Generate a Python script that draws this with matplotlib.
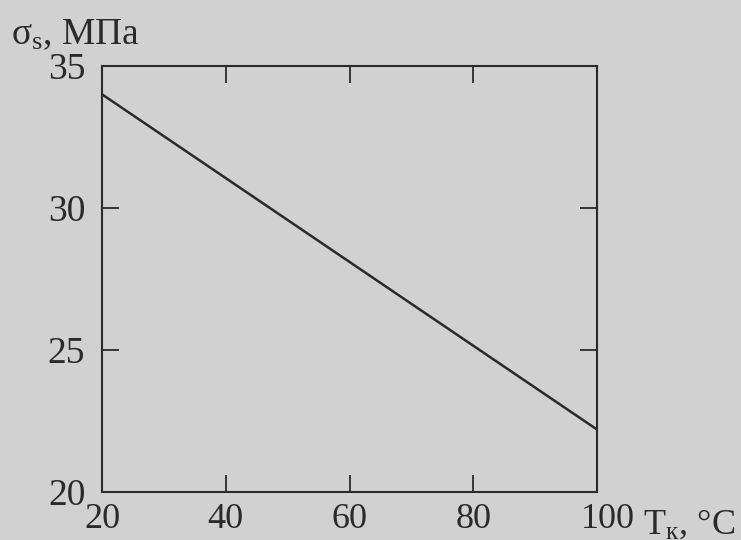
import matplotlib
matplotlib.use("Agg")
import matplotlib.pyplot as plt
import matplotlib.transforms as mtransforms

# Data
temperature = [20, 100]          # T_k, °C
stress = [34.0, 22.2]            # sigma_s, MPa
x_ticks = [20, 40, 60, 80, 100]
y_ticks = [20, 25, 30, 35]

bg = "#d1d1d1"
ink = "#2a2a2a"

plt.rcParams['font.family'] = ['Liberation Serif', 'DejaVu Serif']
plt.rcParams['mathtext.fontset'] = 'custom'
plt.rcParams['mathtext.rm'] = 'Liberation Serif'
plt.rcParams['mathtext.it'] = 'Liberation Serif:italic'
plt.rcParams['mathtext.bf'] = 'Liberation Serif:bold'

fig = plt.figure(figsize=(7.41, 5.40), dpi=100, facecolor=bg)
ax = fig.add_axes([0.1377, 0.0889, 0.668, 0.789], facecolor=bg)

ax.plot(temperature, stress, color=ink, lw=1.8)

ax.set_xlim(20, 100)
ax.set_ylim(20, 35)
ax.set_xticks(x_ticks)
ax.set_yticks(y_ticks)
ax.set_xticklabels([str(v) for v in x_ticks])
ax.set_yticklabels([str(v) for v in y_ticks])
ax.tick_params(direction='in', length=12, width=1.3, color=ink,
               labelcolor=ink, top=True, right=True)
ax.tick_params(axis='y', pad=12, labelsize=27)
ax.tick_params(axis='x', pad=8, labelsize=26)
# last x label sits slightly to the right in the original
xl = ax.get_xticklabels()
xl[-1].set_transform(xl[-1].get_transform() +
                     mtransforms.ScaledTranslation(11 / 100, 0, fig.dpi_scale_trans))
for s in ax.spines.values():
    s.set_color(ink)
    s.set_linewidth(1.5)

# axis labels
fig.text(0.015, 0.918, r"σ$_\mathrm{s}$, МПа", fontsize=27, color=ink,
         ha='left', va='baseline')
fig.text(0.868, 0.012, r"T$_\mathrm{к}$, °C", fontsize=26, color=ink,
         ha='left', va='baseline')

fig.savefig("out.png", dpi=100, facecolor=bg)
